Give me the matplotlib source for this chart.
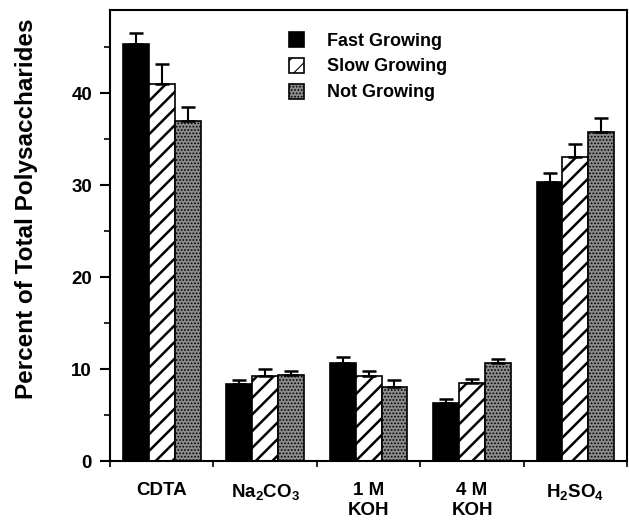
import numpy as np
import matplotlib
matplotlib.use('Agg')
import matplotlib.pyplot as plt

plt.rcParams['font.family'] = ['Liberation Sans', 'DejaVu Sans']
plt.rcParams['font.weight'] = 'bold'
plt.rcParams['mathtext.fontset'] = 'custom'
plt.rcParams['mathtext.rm'] = 'Liberation Sans:bold'
plt.rcParams['mathtext.bf'] = 'Liberation Sans:bold'
plt.rcParams['mathtext.it'] = 'Liberation Sans:bold'

categories = ['CDTA', 'Na$_2$CO$_3$', '1 M\nKOH', '4 M\nKOH', 'H$_2$SO$_4$']
series = ['Fast Growing', 'Slow Growing', 'Not Growing']

fast = [45.3, 8.35, 10.6, 6.3, 30.3]
fast_err = [1.2, 0.45, 0.7, 0.4, 1.0]
slow = [41.0, 9.2, 9.2, 8.5, 33.0]
slow_err = [2.1, 0.8, 0.6, 0.4, 1.5]
notg = [37.0, 9.4, 8.0, 10.6, 35.8]
notg_err = [1.5, 0.4, 0.8, 0.5, 1.5]

fig = plt.figure(figsize=(6.29, 5.23), dpi=100)
ax = fig.add_axes([0.175, 0.1185, 0.822, 0.862])

x = np.arange(len(categories)) + 0.5
w = 0.25

plt.rcParams['hatch.linewidth'] = 1.8
b1 = ax.bar(x - w, fast, w, color='black', edgecolor='black', linewidth=1.2, label=series[0])
b2 = ax.bar(x, slow, w, color='white', edgecolor='black', hatch='//', linewidth=1.2, label=series[1])
plt.rcParams['hatch.linewidth'] = 0.8
b3 = ax.bar(x + w, notg, w, color='#8c8c8c', edgecolor='black', hatch='.....', linewidth=1.2, label=series[2])

for xs, ys, es in [(x - w, fast, fast_err), (x, slow, slow_err), (x + w, notg, notg_err)]:
    ax.errorbar(xs, ys, yerr=[np.zeros(len(es)), es], fmt='none', ecolor='black',
                elinewidth=1.5, capsize=4.7, capthick=1.8)

ax.set_xlim(0, 5)
ax.set_ylim(0, 49)
ax.set_yticks([0, 10, 20, 30, 40])
ax.set_yticks([5, 15, 25, 35, 45], minor=True)
ax.set_xticks(x)
ax.set_xticklabels(categories, fontsize=13.5, linespacing=1.25)
ax.set_xticks(np.arange(6), minor=True)
ax.tick_params(axis='x', which='major', length=0, pad=15)
ax.tick_params(axis='x', which='minor', length=4, width=1.2, direction='out')
ax.tick_params(axis='y', which='major', length=7, width=1.5, labelsize=13.5, pad=6)
ax.tick_params(axis='y', which='minor', length=4, width=1.2)
for s in ax.spines.values():
    s.set_linewidth(1.5)

ax.set_ylabel('Percent of Total Polysaccharides', fontsize=17.5, fontweight='bold')
ax.yaxis.set_label_coords(-0.14, 0.56)

ax.legend(loc='upper left', bbox_to_anchor=(0.347, 0.952), frameon=False, fontsize=13,
          handlelength=0.8, handleheight=0.9, handletextpad=1.3, labelspacing=0.45,
          borderpad=0, borderaxespad=0)

fig.savefig('out.png', dpi=100)
